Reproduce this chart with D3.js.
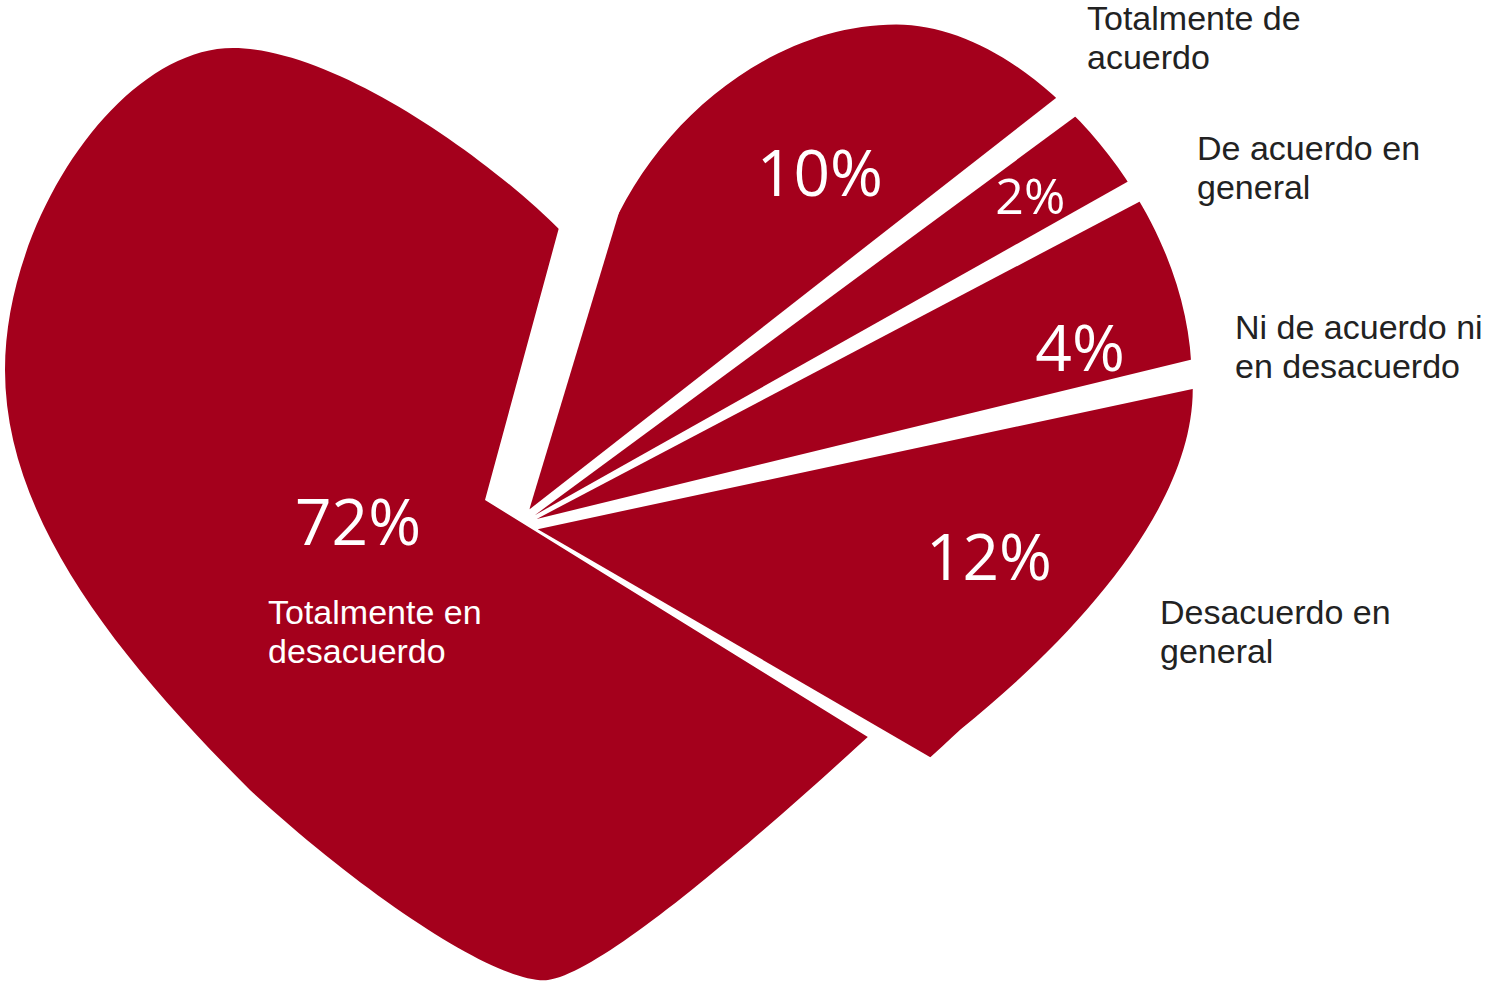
<!DOCTYPE html>
<html>
<head>
<meta charset="utf-8">
<script src="https://cdn.jsdelivr.net/npm/d3@7"></script>
<style>
  html, body { margin: 0; padding: 0; background: #ffffff; }
  svg { display: block; }
</style>
</head>
<body>
<svg id="chart" width="1485" height="982"></svg>
<script>
// Survey answers, in the order the slices run clockwise
const categories = [
  "Totalmente de acuerdo",
  "De acuerdo en general",
  "Ni de acuerdo ni en desacuerdo",
  "Desacuerdo en general",
  "Totalmente en desacuerdo"
];
const values = [10, 2, 4, 12, 72];
const categoryLines = [
  ["Totalmente de", "acuerdo"],
  ["De acuerdo en", "general"],
  ["Ni de acuerdo ni", "en desacuerdo"],
  ["Desacuerdo en", "general"],
  ["Totalmente en", "desacuerdo"]
];

const RED = "#a4001c";
const svg = d3.select("#chart");

// Pie centre: chosen so the first slice boundary runs through the heart's cleft
const cx = 485, cy = 500;

// Heart outline (page coordinates), re-expressed relative to the pie centre
function heartPath() {
  const p = d3.path();
  const P = (x, y) => [x - cx, y - cy];
  const c = (a, b, e) => p.bezierCurveTo(...P(...a), ...P(...b), ...P(...e));
  p.moveTo(...P(562, 232));
  c([610, 110], [730, 15], [852, 15]);      // right lobe, rising from the cleft
  c([985, 15], [1140, 190], [1140, 360]);   // right lobe, over the top
  c([1140, 480], [1020, 610], [908, 700]);  // right flank
  c([800, 800], [610, 972], [548, 980]);    // down to the tip
  c([500, 985], [370, 900], [250, 790]);    // lower left flank
  c([120, 660], [5, 520], [5, 370]);        // left side
  c([5, 220], [120, 48], [233, 48]);        // left lobe, over the top
  c([330, 48], [480, 150], [562, 232]);     // back down into the cleft
  p.closePath();
  return p.toString();
}
const heartD = heartPath();

// Angles proportional to the answers, with a thin angular gap between slices
const start = 16 * Math.PI / 180;
const pad = 1.6 * Math.PI / 180;
const pie = d3.pie().sort(null).value(d => d)
  .startAngle(start).endAngle(start + 2 * Math.PI).padAngle(pad);
const arcs = pie(values);
const maxVal = d3.max(values);

// Wedges used to cut the heart into slices (the pad is left empty on both sides)
const wedge = d3.arc().innerRadius(0).outerRadius(2000)
  .startAngle(a => a.startAngle + a.padAngle / 2)
  .endAngle(a => a.endAngle - a.padAngle / 2)
  .padAngle(0);

// The smaller answers are pulled away from the large one
const groupShift = [33, 26];
const explode = 20;
const mid = a => (a.startAngle + a.endAngle) / 2;
function offsetOf(a) {
  if (a.data === maxVal) return [0, 0];
  const m = mid(a);
  return [groupShift[0] + explode * Math.sin(m), groupShift[1] - explode * Math.cos(m)];
}

const defs = svg.append("defs");
arcs.forEach((a, i) => {
  defs.append("clipPath").attr("id", "slice-clip-" + i)
    .append("path").attr("d", wedge(a));
});

const slices = svg.append("g").selectAll("g.slice")
  .data(arcs)
  .join("g")
  .attr("class", "slice")
  .attr("transform", a => {
    const o = offsetOf(a);
    return `translate(${cx + o[0]},${cy + o[1]})`;
  });

slices.append("g")
  .attr("clip-path", (a, i) => `url(#slice-clip-${i})`)
  .append("path")
  .attr("d", heartD)
  .attr("fill", RED);

// Percentage labels: small slices at a radius and a fraction of their sweep,
// the large one beside its name
const pctFont = "'Open Sans', 'Noto Sans', sans-serif";
const pctPlace = [
  { r: 446, t: 0.67 },
  { r: 590, t: 0.5 },
  { r: 570, t: 0.7 },
  { r: 452, t: 0.37 },
  { dx: -127, dy: 20 }
];
const pctSize = [64, 50, 64, 64, 64];
function pctXY(a, i) {
  const pl = pctPlace[i];
  if (pl.r === undefined) return [pl.dx, pl.dy];
  const ang = a.startAngle + pl.t * (a.endAngle - a.startAngle);
  return [pl.r * Math.sin(ang), -pl.r * Math.cos(ang)];
}
slices.append("text")
  .attr("text-anchor", "middle")
  .attr("dominant-baseline", "central")
  .attr("fill", "#ffffff")
  .attr("font-family", pctFont)
  .attr("font-size", (a, i) => pctSize[i])
  .attr("x", (a, i) => pctXY(a, i)[0])
  .attr("y", (a, i) => pctXY(a, i)[1])
  .text(a => a.data + "%");

// Category names
const catFont = "'Liberation Sans', Arial, sans-serif";
const catPos = [[1087, 30], [1197, 160], [1235, 339], [1160, 624], [268, 624]];
const catFill = ["#222222", "#222222", "#222222", "#222222", "#ffffff"];
categories.forEach((name, i) => {
  const t = svg.append("text")
    .attr("x", catPos[i][0])
    .attr("y", catPos[i][1])
    .attr("fill", catFill[i])
    .attr("font-family", catFont)
    .attr("font-size", 34);
  categoryLines[i].forEach((line, j) => {
    t.append("tspan").attr("x", catPos[i][0]).attr("dy", j === 0 ? 0 : 39).text(line);
  });
});
</script>
</body>
</html>
